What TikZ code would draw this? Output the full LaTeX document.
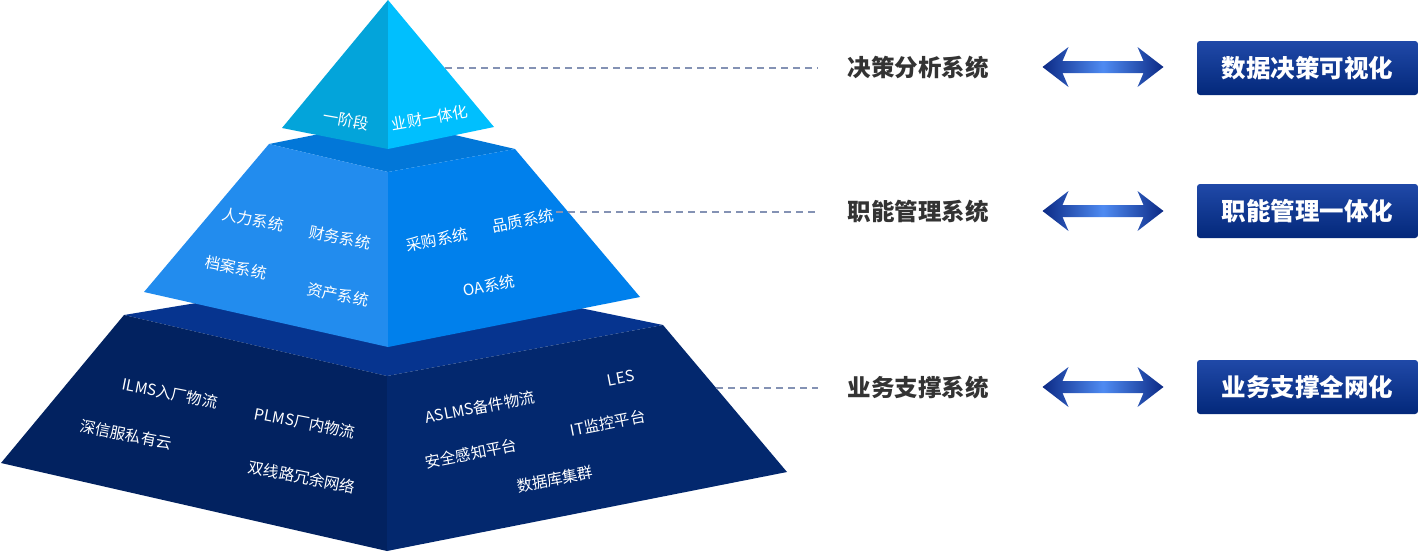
\documentclass[tikz,border=0pt]{standalone}
\usepackage{fontspec}
\setmainfont{Noto Sans CJK SC}
\usepackage{tikz}

\definecolor{topL}{HTML}{03A4DA}
\definecolor{topR}{HTML}{00BFFE}
\definecolor{midT}{HTML}{0277D8}
\definecolor{midL}{HTML}{228CEE}
\definecolor{midR}{HTML}{0080EC}
\definecolor{botT}{HTML}{06348F}
\definecolor{botL}{HTML}{022260}
\definecolor{botR}{HTML}{03286E}
\definecolor{dashc}{HTML}{8492B4}
\definecolor{labc}{HTML}{333333}
\definecolor{boxtop}{HTML}{2049A8}
\definecolor{boxbot}{HTML}{03287A}
\definecolor{arrdark}{HTML}{0C2A85}
\definecolor{arrlight}{HTML}{4F8BF2}

\tikzset{
  face/.style={font=\fontsize{15.5}{18}\selectfont, text=white, inner sep=0pt},
  lft/.style={face, rotate=-11},
  rgt/.style={face, rotate=11},
  sysname/.style={font=\fontsize{23.5}{27}\selectfont\bfseries, text=labc},
  goalbox/.style={minimum width=221pt, minimum height=54pt, rounded corners=3pt,
    top color=boxtop, bottom color=boxbot, text=white,
    font=\fontsize{24.5}{28}\selectfont\bfseries},
  link/.style={dashc, dash pattern=on 7pt off 5pt, line width=1.5pt, shorten >=26pt},
}

\newcommand{\twoway}[1]{%
  \shade[left color=arrdark, right color=arrdark, middle color=arrlight]
    (#1) ++(-60,0) -- ++(26,-20) -- ++(-6,14) -- ++(81,0) -- ++(-6,-14)
    -- ++(26,20) -- ++(-26,20) -- ++(6,-14) -- ++(-81,0) -- ++(6,14) -- cycle;}

\begin{document}
\begin{tikzpicture}[x=1pt,y=-1pt]
\useasboundingbox (0,0) rectangle (1419,552);

\coordinate (bTL) at (124,315); \coordinate (bTF) at (387,376);
\coordinate (bTR) at (663,325); \coordinate (bBL) at (1,463);
\coordinate (bBF) at (387,551); \coordinate (bBR) at (787,472);
\coordinate (mTL) at (269,144); \coordinate (mTF) at (388,172);
\coordinate (mTR) at (515,149); \coordinate (mBL) at (144,292);
\coordinate (mBF) at (388,347); \coordinate (mBR) at (640,297);
\coordinate (apex) at (388,0); \coordinate (tL) at (282,128);
\coordinate (tF) at (388,149); \coordinate (tR) at (494,127);

\fill[botT] (bTL) -- (395,270) -- (bTR) -- (bTF) -- cycle;
\fill[botL] (bTL) -- (bTF) -- (bBF) -- (bBL) -- cycle;
\fill[botR] (bTF) -- (bTR) -- (bBR) -- (bBF) -- cycle;

\fill[midT] (mTL) -- (390,120) -- (mTR) -- (mTF) -- cycle;
\fill[midL] (mTL) -- (mTF) -- (mBF) -- (mBL) -- cycle;
\fill[midR] (mTF) -- (mTR) -- (mBR) -- (mBF) -- cycle;

\fill[topL] (apex) -- (tF) -- (tL) -- cycle;
\fill[topR] (apex) -- (tR) -- (tF) -- cycle;

\node[face, rotate=-10] at (346,120) (t1) {一阶段};
\node[face, rotate=10] at (430,118) (t2) {业财一体化};

\node[lft] at (253,220) (m1) {人力系统};
\node[lft] at (340,238) (m2) {财务系统};
\node[lft] at (236,268) (m3) {档案系统};
\node[lft] at (338,295) (m4) {资产系统};
\node[rgt] at (437,240) (m5) {采购系统};
\node[rgt] at (523,221) (m6) {品质系统};
\node[rgt] at (489,286) (m7) {OA系统};

\node[lft] at (170,393) (b1) {ILMS入厂物流};
\node[lft] at (305,423) (b2) {PLMS厂内物流};
\node[lft] at (126,435) (b3) {深信服私有云};
\node[lft] at (302,477) (b4) {双线路冗余网络};
\node[rgt] at (480,407) (b5) {ASLMS备件物流};
\node[rgt] at (621,378) (b6) {LES};
\node[rgt] at (608,423) (b7) {IT监控平台};
\node[rgt] at (471,454) (b8) {安全感知平台};
\node[rgt] at (555,479) (b9) {数据库集群};

\node[sysname] at (918,68) (s1) {决策分析系统};
\node[sysname] at (918,212) (s2) {职能管理系统};
\node[sysname] at (918,388) (s3) {业务支撑系统};

\node[goalbox] at (1307.5,68) (g1) {数据决策可视化};
\node[goalbox] at (1307.5,211) (g2) {职能管理一体化};
\node[goalbox] at (1307.5,387) (g3) {业务支撑全网化};

\coordinate (d1) at (445,68);
\coordinate (d2) at (556,212);
\coordinate (d3) at (716,388);
\draw[link] (d1) -- (s1.west);
\draw[link] (d2) -- (s2.west);
\draw[link] (d3) -- (s3.west);

\twoway{1102.5,67}
\twoway{1102.5,211}
\twoway{1102.5,387}
\end{tikzpicture}
\end{document}
